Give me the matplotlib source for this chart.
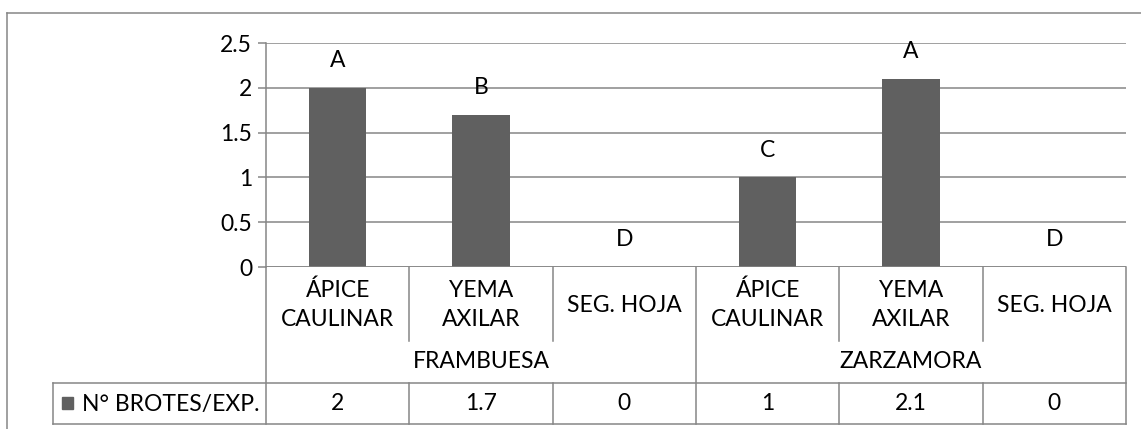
import matplotlib.pyplot as plt
from matplotlib.patches import Rectangle

plt.rcParams['font.family'] = ['Lato', 'DejaVu Sans']

# datos
groups = ["FRAMBUESA", "ZARZAMORA"]
explants = ["ÁPICE\nCAULINAR", "YEMA\nAXILAR", "SEG. HOJA"]
brotes = [2, 1.7, 0, 1, 2.1, 0]
letters = ["A", "B", "D", "C", "A", "D"]
series_name = "N° BROTES/EXP."
y_ticks = [0, 0.5, 1, 1.5, 2, 2.5]
y_tick_labels = ["0", "0.5", "1", "1.5", "2", "2.5"]

W, H = 1141, 429
GRID = "#868686"
BAR = "#606060"
FS = 16.5

fig = plt.figure(figsize=(W / 100, H / 100), dpi=100)

# capa en pixeles para marco y tabla de datos
lay = fig.add_axes([0, 0, 1, 1])
lay.set_xlim(0, W)
lay.set_ylim(H, 0)
lay.axis("off")

x0, x1 = 266, 1126
y_top, y_zero = 43, 267
ax = fig.add_axes([x0 / W, (H - y_zero) / H, (x1 - x0) / W, (y_zero - y_top) / H])

n = len(brotes)
xs = [i + 0.5 for i in range(n)]
ax.bar(xs, brotes, width=0.4, color=BAR, zorder=3)
for x, v, t in zip(xs, brotes, letters):
    ax.annotate(t, (x, v), xytext=(0, 19.5), textcoords="offset points",
                ha="center", va="center", fontsize=FS)

ax.set_xlim(0, n)
ax.set_ylim(0, 2.5)
ax.set_yticks(y_ticks)
ax.set_yticklabels(y_tick_labels, fontsize=FS)
ax.set_xticks([])
ax.tick_params(axis="y", length=6, width=1.1, color=GRID, pad=4)
ax.grid(axis="y", color=GRID, lw=1.1, zorder=0)
for s in ["top", "right", "bottom"]:
    ax.spines[s].set_visible(False)
ax.spines["left"].set_color(GRID)
ax.spines["left"].set_linewidth(1.1)
ax.axhline(0, color=GRID, lw=1.1, zorder=4)
ax.patch.set_alpha(0)

lw = 1.1
# marco exterior
lay.plot([7, 7], [13, H], color=GRID, lw=lw)
lay.plot([7, W], [13, 13], color=GRID, lw=lw)

colw = (x1 - x0) / n
edges = [x0 + i * colw for i in range(n + 1)]
row_cat, row_grp, row_dat0, row_dat1 = 341, 383, 383, 424

# lineas de categorias
for i, ex in enumerate(edges):
    if i % 3 == 0:
        lay.plot([ex, ex], [y_zero, row_dat1], color=GRID, lw=lw)
    else:
        lay.plot([ex, ex], [y_zero, row_cat], color=GRID, lw=lw)
        lay.plot([ex, ex], [row_dat0, row_dat1], color=GRID, lw=lw)

# fila de datos
key_x = 53
lay.plot([key_x, x1], [row_dat0, row_dat0], color=GRID, lw=lw)
lay.plot([key_x, x1], [row_dat1, row_dat1], color=GRID, lw=lw)
lay.plot([key_x, key_x], [row_dat0, row_dat1], color=GRID, lw=lw)

for i in range(n):
    cx = x0 + (i + 0.5) * colw
    lay.text(cx, 305, explants[i % 3], ha="center", va="center",
             fontsize=FS, linespacing=1.5)
    v = brotes[i]
    lay.text(cx, 404, f"{v:g}", ha="center", va="center", fontsize=FS)

for g, name in enumerate(groups):
    cx = x0 + (g * 3 + 1.5) * colw
    lay.text(cx, 362, name, ha="center", va="center", fontsize=FS)

lay.add_patch(Rectangle((62, 397), 11, 12, color=BAR))
lay.text(82, 404, series_name, ha="left", va="center", fontsize=FS)

fig.savefig("out.png", dpi=100)
